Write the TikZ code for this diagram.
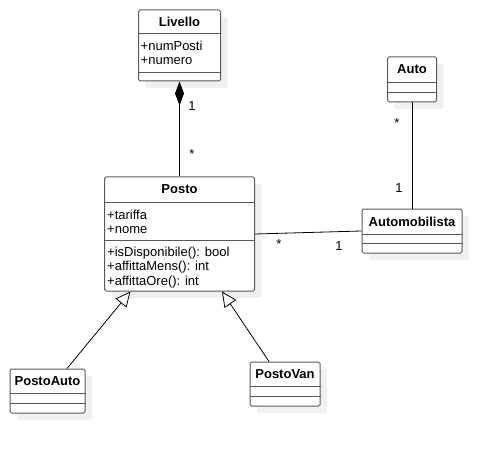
\documentclass[tikz,border=0pt]{standalone}
\usepackage{fontspec}
\setmainfont{Liberation Sans}
\usetikzlibrary{arrows.meta,shadows,calc}

\tikzset{
  umlclass/.style={draw=black!65, fill=white, line width=1pt, rounded corners=1.5pt, inner sep=0pt,
    general shadow={fill=black!6, shadow xshift=7pt, shadow yshift=-7pt}},
  sepline/.style={draw=black!65, line width=1pt},
  classname/.style={font=\fontsize{13pt}{14.5pt}\selectfont\bfseries, inner sep=0pt},
  members/.style={font=\fontsize{13pt}{14.5pt}\selectfont, align=left, anchor=north west, inner sep=0pt},
  mult/.style={font=\fontsize{13pt}{14.5pt}\selectfont, inner sep=0pt},
  assoc/.style={draw=black, line width=0.8pt},
  composition/.style={assoc, -{Diamond[length=24pt, width=9pt]}},
  generalization/.style={assoc, -{Triangle[open, length=15pt, width=14pt, fill=white]}}
}

\begin{document}
\begin{tikzpicture}[x=1pt, y=-1pt]
  \useasboundingbox (0,0) rectangle (502,454);

  % Livello
  \node[umlclass, minimum width=82pt, minimum height=71pt] (livello) at (179.5,45.5) {};
  \draw[sepline] ([yshift=-24pt]livello.north west) -- ([yshift=-24pt]livello.north east);
  \draw[sepline] ([yshift=-63pt]livello.north west) -- ([yshift=-63pt]livello.north east);
  \node[classname] (livelloname) at ([yshift=-12pt]livello.north) {Livello};
  \node[members] (livelloattr) at ([xshift=2.5pt, yshift=-31pt]livello.north west) {+numPosti\\+numero};

  % Posto
  \node[umlclass, minimum width=150pt, minimum height=114pt] (posto) at (179.5,234) {};
  \draw[sepline] ([yshift=-26pt]posto.north west) -- ([yshift=-26pt]posto.north east);
  \draw[sepline] ([yshift=-64pt]posto.north west) -- ([yshift=-64pt]posto.north east);
  \node[classname] (postoname) at ([yshift=-13pt]posto.north) {Posto};
  \node[members] (postoattr) at ([xshift=3pt, yshift=-33pt]posto.north west) {+tariffa\\+nome};
  \node[members] (postoops) at ([xshift=3pt, yshift=-70pt]posto.north west)
    {+isDisponibile(): bool\\+affittaMens(): int\\+affittaOre(): int};

  % Auto
  \node[umlclass, minimum width=49pt, minimum height=45pt] (auto) at (412,79.5) {};
  \draw[sepline] ([yshift=-26pt]auto.north west) -- ([yshift=-26pt]auto.north east);
  \draw[sepline] ([yshift=-36pt]auto.north west) -- ([yshift=-36pt]auto.north east);
  \node[classname] (autoname) at ([yshift=-13pt]auto.north) {Auto};

  % Automobilista
  \node[umlclass, minimum width=100pt, minimum height=44pt] (automobilista) at (412,231) {};
  \draw[sepline] ([yshift=-26pt]automobilista.north west) -- ([yshift=-26pt]automobilista.north east);
  \draw[sepline] ([yshift=-35pt]automobilista.north west) -- ([yshift=-35pt]automobilista.north east);
  \node[classname] (automobilistaname) at ([yshift=-13pt]automobilista.north) {Automobilista};

  % PostoAuto
  \node[umlclass, minimum width=75pt, minimum height=44pt] (postoauto) at (47.5,391) {};
  \draw[sepline] ([yshift=-25pt]postoauto.north west) -- ([yshift=-25pt]postoauto.north east);
  \draw[sepline] ([yshift=-35pt]postoauto.north west) -- ([yshift=-35pt]postoauto.north east);
  \node[classname] (postoautoname) at ([yshift=-12.5pt]postoauto.north) {PostoAuto};

  % PostoVan
  \node[umlclass, minimum width=70pt, minimum height=44pt] (postovan) at (285,384) {};
  \draw[sepline] ([yshift=-25pt]postovan.north west) -- ([yshift=-25pt]postovan.north east);
  \draw[sepline] ([yshift=-35pt]postovan.north west) -- ([yshift=-35pt]postovan.north east);
  \node[classname] (postovanname) at ([yshift=-12.5pt]postovan.north) {PostoVan};

  % Associations
  \draw[composition] (posto.north) -- (livello.south);
  \node[mult] (livellomult) at (192,106) {1};
  \node[mult] (postomultup) at (192,154) {*};

  \draw[assoc] (posto.east) -- (automobilista.west);
  \node[mult] (postomultright) at (279,244) {*};
  \node[mult] (automobilistamultleft) at (339,246) {1};

  \draw[assoc] (auto.south) -- (automobilista.north);
  \node[mult] (automult) at (397,123) {*};
  \node[mult] (automobilistamultup) at (399,188) {1};

  % Generalizations
  \draw[generalization] ([xshift=19.5pt]postoauto.north) -- ([xshift=-49pt]posto.south);
  \draw[generalization] ([xshift=-16pt]postovan.north) -- ([xshift=42.5pt]posto.south);
\end{tikzpicture}
\end{document}
